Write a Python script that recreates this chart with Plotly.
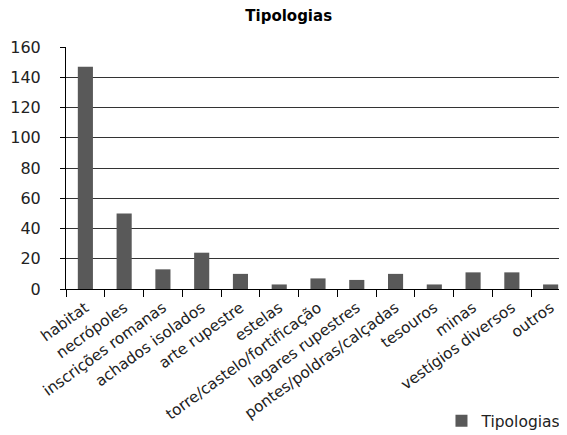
import plotly.graph_objects as go

categories = ["habitat", "necrópoles", "inscrições romanas", "achados isolados", "arte rupestre",
              "estelas", "torre/castelo/fortificação", "lagares rupestres", "pontes/poldras/calçadas",
              "tesouros", "minas", "vestígios diversos", "outros"]
values = [147, 50, 13, 24, 10, 3, 7, 6, 10, 3, 11, 11, 3]
y_ticks = [0, 20, 40, 60, 80, 100, 120, 140, 160]

fig = go.Figure()
fig.add_trace(go.Bar(x=categories, y=values, name="Tipologias", marker_color="#595959",
                     marker_line_width=0))

fig.update_layout(
    width=567, height=435,
    margin=dict(l=58, r=5, t=39, b=145),
    paper_bgcolor="white", plot_bgcolor="white",
    font=dict(family="DejaVu Sans, sans-serif", color="#222"),
    title=dict(text="<b>Tipologias</b>", xref="container", x=0.495, xanchor="center",
               yref="container", y=0.994, yanchor="top", font=dict(size=15, color="black")),
    bargap=0.61,
    showlegend=True,
    legend=dict(x=0.745, xanchor="left", y=-0.476, yanchor="top", font=dict(size=15.5),
                itemwidth=30, bgcolor="rgba(0,0,0,0)"),
    xaxis=dict(tickangle=-36, tickfont=dict(size=15.3, color="#222"), showline=True,
               linecolor="black", linewidth=1, ticks="outside", ticklen=7, tickcolor="black",
               tickson="boundaries", showgrid=False, automargin=False, ticklabelstandoff=3),
    yaxis=dict(range=[0, 160], tickvals=y_ticks, tickfont=dict(size=16, color="#222"),
               showline=True, linecolor="black", linewidth=1, ticks="outside", ticklen=5,
               tickcolor="black", showgrid=True, gridcolor="#333", gridwidth=1,
               zeroline=False, automargin=False, ticklabelstandoff=16),
)

fig.write_html("out.html")
